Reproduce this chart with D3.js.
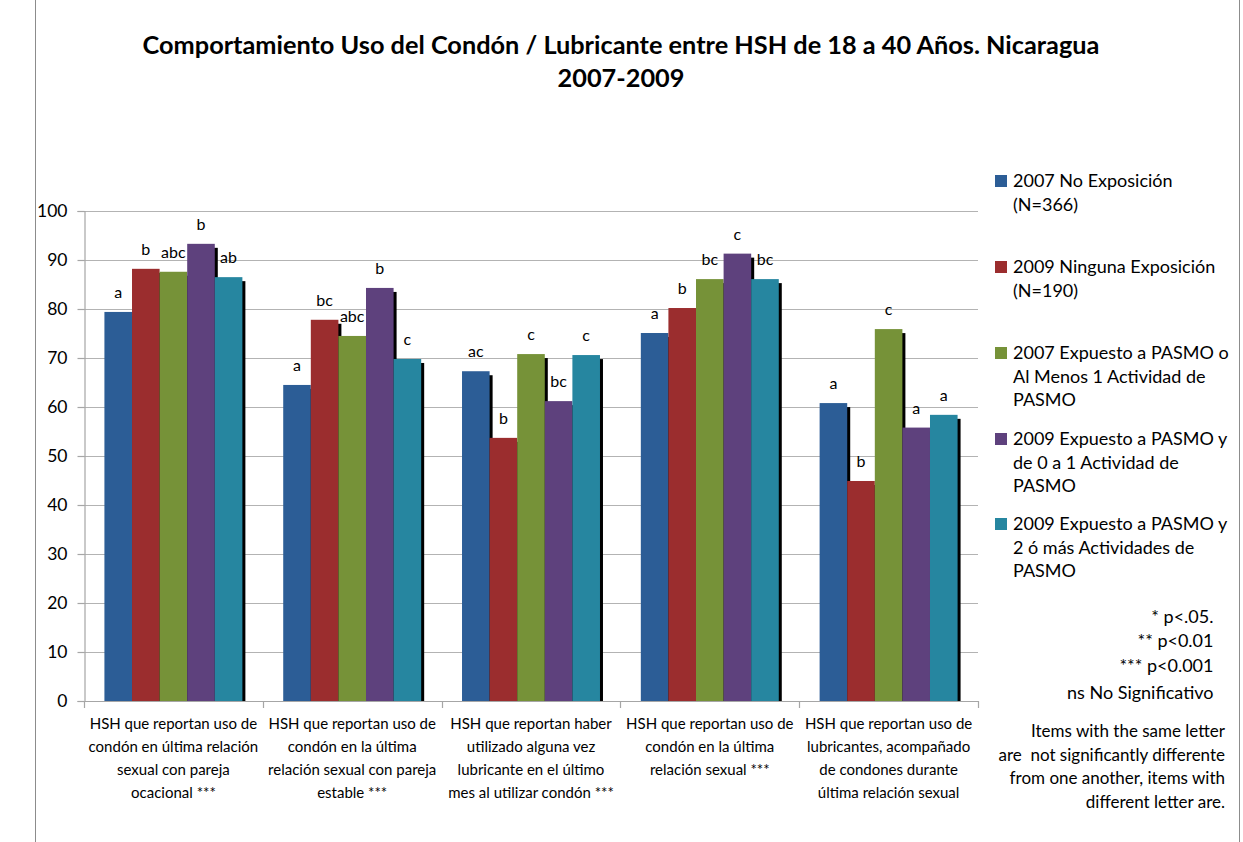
<!DOCTYPE html>
<html>
<head>
<meta charset="utf-8">
<script src="https://cdn.jsdelivr.net/npm/d3@7/dist/d3.min.js"></script>
<style>
  html, body { margin: 0; padding: 0; background: #fff; }
  svg { display: block; }
  text { font-family: Lato, "Open Sans", sans-serif; fill: #000; }
</style>
</head>
<body>
<svg id="chart" width="1243" height="842"></svg>
<script>
// ---------- DATA ----------
const categories = [
  ["HSH que reportan uso de", "condón en última relación", "sexual con pareja", "ocacional ***"],
  ["HSH que reportan uso de", "condón en la última", "relación sexual con pareja", "estable ***"],
  ["HSH que reportan haber", "utilizado alguna vez", "lubricante en el último", "mes al utilizar condón ***"],
  ["HSH que reportan uso de", "condón en la última", "relación sexual ***"],
  ["HSH que reportan uso de", "lubricantes, acompañado", "de condones durante", "última relación sexual"]
];
const seriesNames = [
  ["2007 No Exposición", "(N=366)"],
  ["2009 Ninguna Exposición", "(N=190)"],
  ["2007 Expuesto a PASMO o", "Al Menos 1 Actividad de", "PASMO"],
  ["2009 Expuesto a PASMO y", "de 0 a 1 Actividad de", "PASMO"],
  ["2009 Expuesto a PASMO y", "2 ó más Actividades de", "PASMO"]
];
const seriesColors = ["#2C5D96", "#9B2D2E", "#769238", "#5E417D", "#2686A0"];
const values2007NoExp   = [79.4, 64.5, 67.3, 75.1, 60.8];
const values2009Ninguna = [88.2, 77.8, 53.7, 80.2, 44.9];
const values2007Expuesto = [87.6, 74.5, 70.8, 86.1, 75.9];
const values2009Exp01   = [93.3, 84.3, 61.2, 91.3, 55.8];
const values2009Exp2mas = [86.5, 69.8, 70.6, 86.1, 58.4];
const letters2007NoExp   = ["a", "a", "ac", "a", "a"];
const letters2009Ninguna = ["b", "bc", "b", "b", "b"];
const letters2007Expuesto = ["abc", "abc", "c", "bc", "c"];
const letters2009Exp01   = ["b", "b", "bc", "c", "a"];
const letters2009Exp2mas = ["ab", "c", "c", "bc", "a"];
const yTicks = [0, 10, 20, 30, 40, 50, 60, 70, 80, 90, 100];
const titleLines = ["Comportamiento Uso del Condón / Lubricante entre HSH de 18 a 40 Años. Nicaragua", "2007-2009"];
const sigNotes = ["* p<.05.", "** p<0.01", "*** p<0.001", "ns No Significativo"];
const letterNote = ["Items with the same letter", "are  not significantly differente", "from one another, items with", "different letter are."];

const seriesValues = [values2007NoExp, values2009Ninguna, values2007Expuesto, values2009Exp01, values2009Exp2mas];
const seriesLetters = [letters2007NoExp, letters2009Ninguna, letters2007Expuesto, letters2009Exp01, letters2009Exp2mas];

// ---------- LAYOUT ----------
const svg = d3.select("#chart");
const plot = { left: 84, right: 978, top: 211, bottom: 701 };

// chart border
svg.append("rect")
  .attr("x", 35.5).attr("y", -2).attr("width", 1204).attr("height", 860)
  .attr("fill", "none").attr("stroke", "#8c8c8c").attr("stroke-width", 1);

// title
svg.selectAll("text.title").data(titleLines).join("text")
  .attr("class", "title")
  .attr("x", 621).attr("y", (d, i) => 54 + i * 33)
  .attr("text-anchor", "middle")
  .attr("font-size", 25.3).attr("font-weight", "bold")
  .text(d => d);

const y = d3.scaleLinear().domain([0, 100]).range([plot.bottom, plot.top]);
const x0 = d3.scaleBand().domain(d3.range(categories.length)).range([plot.left, plot.right]).padding(0);
const x1 = d3.scaleBand().domain(d3.range(seriesValues.length)).range([0, x0.bandwidth()])
  .paddingInner(0).paddingOuter(0.74);

// gridlines
svg.append("g").selectAll("line").data(yTicks.filter(t => t > 0)).join("line")
  .attr("x1", plot.left).attr("x2", plot.right)
  .attr("y1", d => Math.round(y(d)) + 0.5).attr("y2", d => Math.round(y(d)) + 0.5)
  .attr("stroke", "#b3b3b3").attr("stroke-width", 1.2);

// y axis
const yAxis = svg.append("g")
  .attr("transform", `translate(${plot.left + 0.5},0)`)
  .call(d3.axisLeft(y).tickValues(yTicks).tickSize(7).tickPadding(10).tickFormat(d3.format("d")));
yAxis.select(".domain").attr("stroke", "#a6a6a6").attr("stroke-width", 1.2);
yAxis.selectAll(".tick line").attr("stroke", "#a6a6a6").attr("stroke-width", 1.2);
yAxis.selectAll(".tick text").attr("font-size", 17.5).attr("font-family", "Lato, sans-serif").attr("fill", "#000");

// bars: shadows then bars per series
const barsG = svg.append("g");
seriesValues.forEach((vals, s) => {
  const g = barsG.append("g");
  g.selectAll("rect.shadow").data(vals).join("rect")
    .attr("class", "shadow")
    .attr("x", (d, i) => x0(i) + x1(s) + 3)
    .attr("y", d => y(d) + 4)
    .attr("width", x1.bandwidth())
    .attr("height", d => Math.max(0, y(0) - y(d) - 4))
    .attr("fill", "#000");
  g.selectAll("rect.bar").data(vals).join("rect")
    .attr("class", "bar")
    .attr("x", (d, i) => x0(i) + x1(s))
    .attr("y", d => y(d))
    .attr("width", x1.bandwidth())
    .attr("height", d => y(0) - y(d))
    .attr("fill", seriesColors[s]);
});

// letter labels
seriesValues.forEach((vals, s) => {
  barsG.append("g").selectAll("text").data(vals).join("text")
    .attr("x", (d, i) => x0(i) + x1(s) + x1.bandwidth() / 2)
    .attr("y", d => y(d) - 14)
    .attr("text-anchor", "middle")
    .attr("font-size", 16)
    .text((d, i) => seriesLetters[s][i]);
});

// x axis
const xAxisG = svg.append("g");
xAxisG.append("line")
  .attr("x1", plot.left).attr("x2", plot.right)
  .attr("y1", plot.bottom + 0.5).attr("y2", plot.bottom + 0.5)
  .attr("stroke", "#a6a6a6").attr("stroke-width", 1.2);
const boundaries = d3.range(categories.length + 1).map(i => i < categories.length ? x0(i) : plot.right);
xAxisG.selectAll("line.tk").data(boundaries).join("line")
  .attr("class", "tk")
  .attr("x1", d => Math.round(d) + 0.5).attr("x2", d => Math.round(d) + 0.5)
  .attr("y1", plot.bottom).attr("y2", plot.bottom + 7)
  .attr("stroke", "#a6a6a6").attr("stroke-width", 1.2);

categories.forEach((lines, i) => {
  xAxisG.append("text")
    .attr("x", x0(i) + x0.bandwidth() / 2)
    .attr("y", 729)
    .attr("text-anchor", "middle")
    .attr("font-size", 15)
    .selectAll("tspan").data(lines).join("tspan")
    .attr("x", x0(i) + x0.bandwidth() / 2)
    .attr("dy", (d, j) => j === 0 ? 0 : 23)
    .text(d => d);
});

// legend
const legendTops = [181, 267, 353, 439, 524];
const legend = svg.append("g");
seriesNames.forEach((lines, s) => {
  legend.append("rect")
    .attr("x", 995).attr("y", legendTops[s] - 6).attr("width", 12).attr("height", 12)
    .attr("fill", seriesColors[s]);
  legend.append("text")
    .attr("x", 1013).attr("y", legendTops[s] + 6)
    .attr("font-size", 18)
    .selectAll("tspan").data(lines).join("tspan")
    .attr("x", 1013)
    .attr("dy", (d, j) => j === 0 ? 0 : 23.5)
    .text(d => d);
});

// significance notes
const sigY = [623, 647, 672, 699];
sigNotes.forEach((t, i) => {
  svg.append("text")
    .attr("x", 1213.5)
    .attr("y", sigY[i])
    .attr("text-anchor", "end")
    .attr("font-size", 18)
    .text(t);
});

letterNote.forEach((t, i) => {
  svg.append("text")
    .attr("x", 1225)
    .attr("y", 737 + i * 23.7)
    .attr("text-anchor", "end")
    .attr("font-size", 17)
    .attr("xml:space", "preserve")
    .style("white-space", "pre")
    .text(t);
});
</script>
</body>
</html>
